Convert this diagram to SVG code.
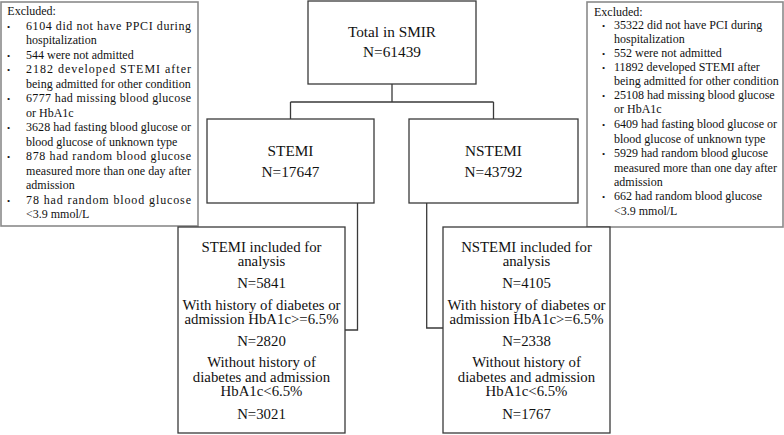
<svg xmlns="http://www.w3.org/2000/svg" width="784" height="435" viewBox="0 0 784 435">
<style>
text{font-family:"Liberation Serif","Times New Roman",serif;fill:#111}
.box{fill:#fff;stroke:#3a3a3a;stroke-width:1.3}
.ex{fill:#fff;stroke:#8a8a8a;stroke-width:1.6}
.t15{font-size:15.3px;text-anchor:middle}
.t14{font-size:14.8px;text-anchor:middle}
.t12{font-size:12px}
.bul{font-size:9px}
.con{fill:none;stroke:#3a3a3a;stroke-width:1.3}
</style>
<rect width="784" height="435" fill="#fff"/>
<g id="connectors">
<path class="con" d="M392,84 V102 M290.5,102 H493.5 M290.5,102 V119 M493.5,102 V119"/>
<path class="con" d="M357.5,203 V330 H345"/>
<path class="con" d="M426.7,203 V328 H443"/>
</g>
<g id="excluded-left">
<rect class="ex" x="1" y="2" width="197" height="224"/>
<text class="t12" x="7.3" y="15">Excluded:</text>
<g class="bul"><text x="7" y="29.5">•</text><text x="7" y="58.5">•</text><text x="7" y="73">•</text><text x="7" y="102">•</text><text x="7" y="131">•</text><text x="7" y="160">•</text><text x="7" y="203.5">•</text></g>
<text class="t12" x="26" y="29.5" textLength="165" lengthAdjust="spacing">6104 did not have PPCI during</text>
<text class="t12" x="26" y="44">hospitalization</text>
<text class="t12" x="26" y="58.5">544 were not admitted</text>
<text class="t12" x="26" y="73" textLength="165" lengthAdjust="spacing">2182 developed STEMI after</text>
<text class="t12" x="26" y="87.5">being admitted for other condition</text>
<text class="t12" x="26" y="102" textLength="165" lengthAdjust="spacing">6777 had missing blood glucose</text>
<text class="t12" x="26" y="116.5">or HbA1c</text>
<text class="t12" x="26" y="131" textLength="165" lengthAdjust="spacing">3628 had fasting blood glucose or</text>
<text class="t12" x="26" y="145.5">blood glucose of unknown type</text>
<text class="t12" x="26" y="160" textLength="165" lengthAdjust="spacing">878 had random blood glucose</text>
<text class="t12" x="26" y="174.5" textLength="165" lengthAdjust="spacing">measured more than one day after</text>
<text class="t12" x="26" y="189">admission</text>
<text class="t12" x="26" y="203.5" textLength="165" lengthAdjust="spacing">78 had random blood glucose</text>
<text class="t12" x="26" y="218">&lt;3.9 mmol/L</text>
</g>
<g id="excluded-right">
<rect class="ex" x="587" y="2" width="196" height="225"/>
<text class="t12" x="594" y="16">Excluded:</text>
<g class="bul"><text x="602" y="29.3">•</text><text x="602" y="56.7">•</text><text x="602" y="70.7">•</text><text x="602" y="99.3">•</text><text x="602" y="128.3">•</text><text x="602" y="156.7">•</text><text x="602" y="200">•</text></g>
<text class="t12" x="614" y="29.3">35322 did not have PCI during</text>
<text class="t12" x="614" y="43">hospitalization</text>
<text class="t12" x="614" y="56.7">552 were not admitted</text>
<text class="t12" x="614" y="70.7">11892 developed STEMI after</text>
<text class="t12" x="614" y="85">being admitted for other condition</text>
<text class="t12" x="614" y="99.3">25108 had missing blood glucose</text>
<text class="t12" x="614" y="113.3">or HbA1c</text>
<text class="t12" x="614" y="128.3">6409 had fasting blood glucose or</text>
<text class="t12" x="614" y="142.7">blood glucose of unknown type</text>
<text class="t12" x="614" y="156.7">5929 had random blood glucose</text>
<text class="t12" x="614" y="171.7">measured more than one day after</text>
<text class="t12" x="614" y="186">admission</text>
<text class="t12" x="614" y="200">662 had random blood glucose</text>
<text class="t12" x="614" y="215">&lt;3.9 mmol/L</text>
</g>
<g id="total">
<rect class="box" x="308" y="1" width="168" height="83"/>
<text class="t15" x="392" y="37">Total in SMIR</text>
<text class="t15" x="392" y="57">N=61439</text>
</g>
<g id="stemi">
<rect class="box" x="207" y="119" width="167" height="84"/>
<text class="t15" x="290.5" y="156">STEMI</text>
<text class="t15" x="290.5" y="177">N=17647</text>
</g>
<g id="nstemi">
<rect class="box" x="409" y="119" width="169" height="84"/>
<text class="t15" x="493.5" y="156">NSTEMI</text>
<text class="t15" x="493.5" y="177">N=43792</text>
</g>
<g id="stemi-included">
<rect class="box" x="178" y="227" width="167" height="206"/>
<text class="t14" x="261.5" y="251.7">STEMI included for</text>
<text class="t14" x="261.5" y="266">analysis</text>
<text class="t14" x="261.5" y="288">N=5841</text>
<text class="t14" x="261.5" y="310">With history of diabetes or</text>
<text class="t14" x="261.5" y="324.3">admission HbA1c&gt;=6.5%</text>
<text class="t14" x="261.5" y="346">N=2820</text>
<text class="t14" x="261.5" y="367">Without history of</text>
<text class="t14" x="261.5" y="381.5">diabetes and admission</text>
<text class="t14" x="261.5" y="396">HbA1c&lt;6.5%</text>
<text class="t14" x="261.5" y="418.5">N=3021</text>
</g>
<g id="nstemi-included">
<rect class="box" x="443" y="227" width="167" height="206"/>
<text class="t14" x="526.5" y="251.7">NSTEMI included for</text>
<text class="t14" x="526.5" y="266">analysis</text>
<text class="t14" x="526.5" y="288">N=4105</text>
<text class="t14" x="526.5" y="310">With history of diabetes or</text>
<text class="t14" x="526.5" y="324.3">admission HbA1c&gt;=6.5%</text>
<text class="t14" x="526.5" y="346">N=2338</text>
<text class="t14" x="526.5" y="367">Without history of</text>
<text class="t14" x="526.5" y="381.5">diabetes and admission</text>
<text class="t14" x="526.5" y="396">HbA1c&lt;6.5%</text>
<text class="t14" x="526.5" y="418.5">N=1767</text>
</g>
</svg>
